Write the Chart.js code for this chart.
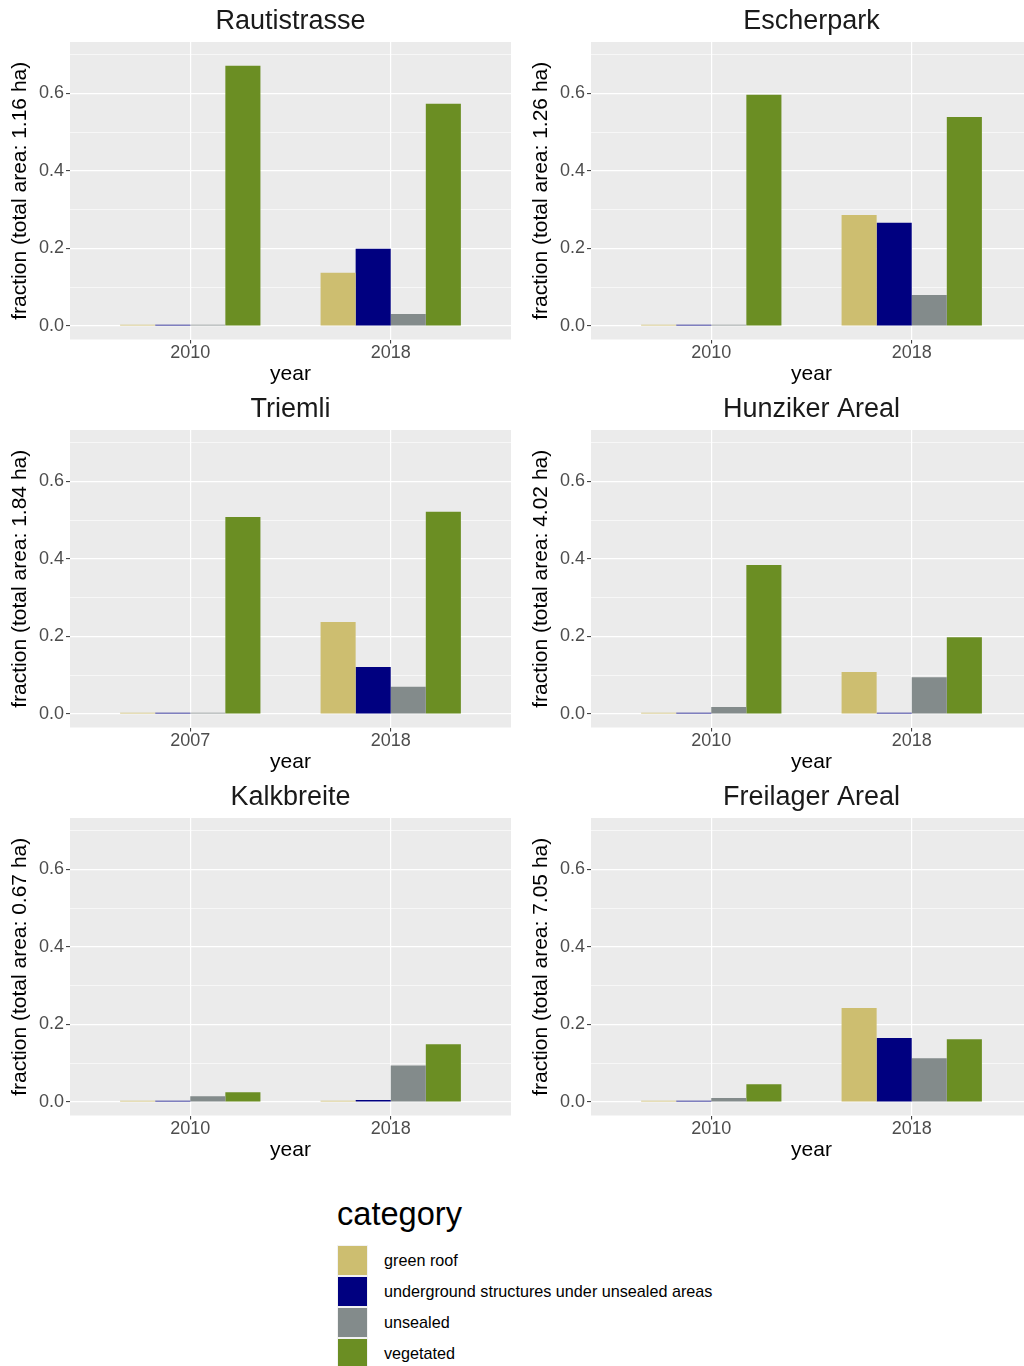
<!DOCTYPE html>
<html><head><meta charset="utf-8">
<script src="https://cdn.jsdelivr.net/npm/chart.js@4"></script>
<style>
html,body{margin:0;padding:0;width:1024px;height:1366px;overflow:hidden;background:#fff;font-family:"Liberation Sans",Arial,sans-serif;}
canvas{position:absolute;}
#legTitle{position:absolute;left:337px;top:1198px;font-size:32.6px;line-height:32px;color:#000;white-space:nowrap;}
.lkey{position:absolute;left:337px;width:31px;height:31px;background:#F2F2F2;}
.lkey span{position:absolute;left:1px;top:1px;width:29px;height:29px;}
.llab{position:absolute;left:384px;height:31px;line-height:31px;font-size:16.2px;color:#000;white-space:nowrap;}
</style></head><body>
<div id="legTitle">category</div>
<div id="legend"></div>
<script>
const sites = ['Rautistrasse','Escherpark','Triemli','Hunziker Areal','Kalkbreite','Freilager Areal'];
const totalAreas = ['1.16','1.26','1.84','4.02','0.67','7.05'];
const yearLabels = [['2010','2018'],['2010','2018'],['2007','2018'],['2010','2018'],['2010','2018'],['2010','2018']];
const categories = ['green roof','underground structures under unsealed areas','unsealed','vegetated'];
const colors = ['#CDBE70','#000080','#838B8B','#6B8E23'];
const yTicks = [0,0.1,0.2,0.3,0.4,0.5,0.6,0.7];
// values per site: [first year, 2018]
const greenRoof   = [[0.003,0.137],[0.003,0.286],[0.003,0.237],[0.003,0.108],[0.003,0.003],[0.003,0.242]];
const underground = [[0.003,0.199],[0.003,0.266],[0.003,0.121],[0.003,0.003],[0.003,0.005],[0.003,0.165]];
const unsealed    = [[0.003,0.031],[0.003,0.080],[0.003,0.070],[0.018,0.095],[0.015,0.094],[0.010,0.113]];
const vegetated   = [[0.671,0.573],[0.596,0.539],[0.508,0.521],[0.384,0.198],[0.025,0.149],[0.046,0.162]];

const F = '"Liberation Sans", Arial, sans-serif';
const series = [greenRoof, underground, unsealed, vegetated];
const isMajor = v => Math.round(v*10) % 2 === 0;

const bgPlugin = {id:'panelBg', beforeDraw(chart){
  const {ctx, chartArea:a} = chart;
  ctx.save(); ctx.fillStyle = '#EBEBEB';
  ctx.fillRect(a.left, a.top, a.right-a.left, a.bottom-a.top);
  ctx.restore();
}};

function makeChart(i){
  const col = i % 2, row = Math.floor(i/2);
  const cv = document.createElement('canvas');
  cv.width = 520; cv.height = 388;
  cv.style.left = (col*521) + 'px'; cv.style.top = (row*388) + 'px';
  document.body.appendChild(cv);
  new Chart(cv, {
    type: 'bar',
    data: {datasets: categories.map((c,k) => ({
      label: c,
      data: series[k][i].map((v,j) => ({x: j+1, y: v})),
      backgroundColor: colors[k], borderWidth: 0,
      categoryPercentage: 0.7, barPercentage: 1
    }))},
    options: {
      responsive: false, animation: false, devicePixelRatio: 1,
      layout: {padding: {left: 0, right: 9, top: 0, bottom: 0}},
      plugins: {
        legend: {display: false}, tooltip: {enabled: false},
        title: {display: true, text: sites[i], color: '#1A1A1A', fullSize: false,
          font: {family: F, size: 27, weight: 'normal', lineHeight: 1.2},
          padding: {top: 5.5, bottom: 4.1}}
      },
      scales: {
        x: {
          type: 'linear', min: 0.4, max: 2.6, offset: false,
          afterBuildTicks(s){ s.ticks = [{value:1},{value:2}]; },
          afterFit(s){ s.height = 48.5; },
          ticks: {callback: v => yearLabels[i][Math.round(v)-1], font: {family: F, size: 18, lineHeight: 1},
            color: '#4D4D4D', padding: 1, maxRotation: 0, autoSkip: false},
          grid: {offset: false, color: '#FFFFFF', lineWidth: 1.2, tickLength: 4, tickColor: '#333333', tickWidth: 1},
          border: {display: false},
          title: {display: true, text: 'year', color: '#000',
            font: {family: F, size: 21, lineHeight: 1.2}, padding: {top: 0, bottom: 1}}
        },
        y: {
          min: -0.0348, max: 0.732,
          afterBuildTicks(s){ s.ticks = yTicks.map(v => ({value: v})); },
          afterFit(s){ s.width = 70; },
          ticks: {callback: v => isMajor(v) ? v.toFixed(1) : '', font: {family: F, size: 18},
            color: '#4D4D4D', padding: 2, autoSkip: false},
          grid: {color: '#FFFFFF',
            lineWidth: ctx => (ctx.tick && isMajor(ctx.tick.value)) ? 1.2 : 0.6,
            tickColor: ctx => (ctx.tick && isMajor(ctx.tick.value)) ? '#333333' : 'rgba(0,0,0,0)',
            tickLength: 4, tickWidth: 1},
          border: {display: false},
          title: {display: true, text: 'fraction (total area: ' + totalAreas[i] + ' ha)', color: '#000',
            font: {family: F, size: 21, lineHeight: 1.2}, padding: {top: 8, bottom: 0}}
        }
      }
    },
    plugins: [bgPlugin]
  });
}
for (let i = 0; i < sites.length; i++) makeChart(i);

const leg = document.getElementById('legend');
categories.forEach((c,k) => {
  const top = 1244.5 + k*31;
  const key = document.createElement('div');
  key.className = 'lkey'; key.style.top = top + 'px';
  const sw = document.createElement('span'); sw.style.background = colors[k];
  key.appendChild(sw); leg.appendChild(key);
  const lab = document.createElement('div');
  lab.className = 'llab'; lab.style.top = top + 'px'; lab.textContent = c;
  leg.appendChild(lab);
});
</script>
</body></html>
